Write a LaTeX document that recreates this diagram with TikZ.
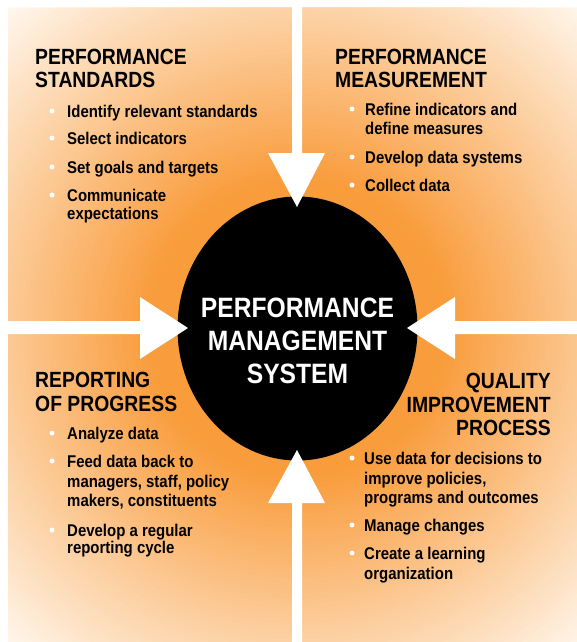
\documentclass[tikz,border=0pt]{standalone}
\usepackage{fontspec}
\newfontfamily\cond{Liberation Sans}[FakeStretch=0.88]
\usetikzlibrary{shapes.geometric}
\definecolor{orng}{RGB}{249,156,60}
\definecolor{lite}{RGB}{255,252,248}
\begin{document}
\begin{tikzpicture}[x=1pt,y=-1pt,
 head/.style={anchor=base west, inner sep=0, font=\cond\bfseries\fontsize{22}{24}\selectfont},
 headr/.style={head, anchor=base east},
 item/.style={anchor=base west, inner sep=0, font=\cond\bfseries\fontsize{17}{19}\selectfont},
 ctr/.style={anchor=base, inner sep=0, text=white, font=\cond\bfseries\fontsize{28}{30}\selectfont},
 dot/.style={circle, fill=white, inner sep=0, minimum size=5pt},
 arr/.style={fill=white}]
\useasboundingbox (0,0) rectangle (577,642);
% quadrants with a radial gradient centred on the ellipse
\begin{scope}
 \clip (8,8) rectangle (292,321) (302,8) rectangle (577,321)
       (8,334) rectangle (292,642) (302,334) rectangle (577,642);
 \fill[lite] (0,0) rectangle (577,642);
 \foreach \i in {0,...,92}{
   \pgfmathsetmacro\qr{460-5*\i}
   \pgfmathsetmacro\qf{max(0,min(100,(450-\qr)/3))}
   \fill[orng!\qf!lite] (297.5,328.5) circle[radius=\qr];
 }
\end{scope}
% centre
\node[ellipse, fill=black, minimum width=240pt, minimum height=264pt, inner sep=0] (pms) at (297.5,328.5) {};
% arrows
\fill[arr] (292,0) -- (302,0) -- (302,153) -- (325,153) -- (297,207) -- (268,153) -- (292,153) -- cycle;
\fill[arr] (0,321) -- (140,321) -- (140,297) -- (188,328) -- (140,359) -- (140,334) -- (0,334) -- cycle;
\fill[arr] (577,321) -- (455,321) -- (455,297) -- (407,328) -- (455,359) -- (455,334) -- (577,334) -- cycle;
\fill[arr] (292,642) -- (292,503) -- (268,503) -- (297,450) -- (325,503) -- (302,503) -- (302,642) -- cycle;
\node[ctr] (c1) at (297.5,317) {PERFORMANCE};
\node[ctr] (c2) at (297.5,350) {MANAGEMENT};
\node[ctr] (c3) at (297.5,383) {SYSTEM};
% top left
\node[head] (tl1) at (35,64) {PERFORMANCE};
\node[head] (tl2) at (35,87) {STANDARDS};
\node[item] (tla) at (67,117) {Identify relevant standards};
\node[item] (tlb) at (67,144) {Select indicators};
\node[item] (tlc) at (67,173) {Set goals and targets};
\node[item] (tld) at (67,201) {Communicate};
\node[item] (tle) at (67,219) {expectations};
\foreach \y/\n in {117/a,144/b,173/c,201/d} \node[dot] (tldot\n) at (52,\y-6) {};
% top right
\node[head] (tr1) at (335,64) {PERFORMANCE};
\node[head] (tr2) at (335,87) {MEASUREMENT};
\node[item] (tra) at (365,115) {Refine indicators and};
\node[item] (trb) at (365,134) {define measures};
\node[item] (trc) at (365,163) {Develop data systems};
\node[item] (trd) at (365,191) {Collect data};
\foreach \y/\n in {115/a,163/c,191/d} \node[dot] (trdot\n) at (352,\y-6) {};
% bottom left
\node[head] (bl1) at (35,387) {REPORTING};
\node[head] (bl2) at (35,411) {OF PROGRESS};
\node[item] (bla) at (67,439) {Analyze data};
\node[item] (blb) at (67,467) {Feed data back to};
\node[item] (blc) at (67,487) {managers, staff, policy};
\node[item] (bld) at (67,506) {makers, constituents};
\node[item] (ble) at (67,536) {Develop a regular};
\node[item] (blf) at (67,553) {reporting cycle};
\foreach \y/\n in {439/a,467/b,536/e} \node[dot] (bldot\n) at (52,\y-6) {};
% bottom right
\node[headr] (br1) at (551,388) {QUALITY};
\node[headr] (br2) at (551,412) {IMPROVEMENT};
\node[headr] (br3) at (551,435) {PROCESS};
\node[item] (bra) at (364,464) {Use data for decisions to};
\node[item] (brb) at (364,484) {improve policies,};
\node[item] (brc) at (364,503) {programs and outcomes};
\node[item] (brd) at (364,531) {Manage changes};
\node[item] (bre) at (364,559) {Create a learning};
\node[item] (brf) at (364,579) {organization};
\foreach \y/\n in {464/a,531/d,559/e} \node[dot] (brdot\n) at (352,\y-6) {};
\end{tikzpicture}
\end{document}
